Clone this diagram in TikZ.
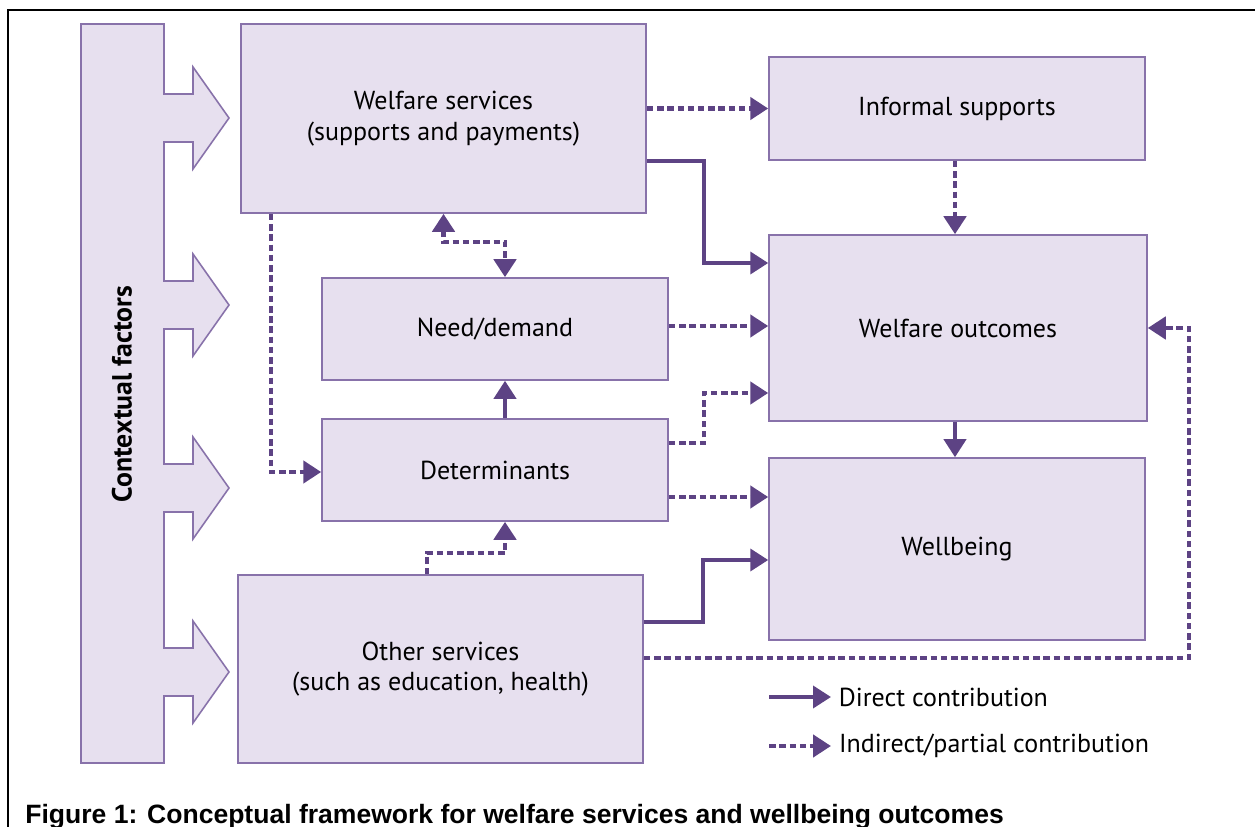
\documentclass[tikz,border=0pt]{standalone}
\usepackage{fontspec}
\setmainfont{PT Sans}
\newfontfamily\captionfont{Liberation Sans}
\usetikzlibrary{arrows.meta}
\definecolor{boxfill}{HTML}{E7E0EF}
\definecolor{boxline}{HTML}{8872AA}
\definecolor{flow}{HTML}{5D4384}
\newcommand{\boxtext}{\fontsize{14.8}{17.5}\selectfont}

\begin{document}
\begin{tikzpicture}[x=0.02cm, y=-0.02cm,
  >={Triangle[length=0.36cm, width=0.44cm]},
  box/.style={draw=boxline, fill=boxfill, line width=0.9pt, align=center, font=\boxtext},
  direct/.style={->, draw=flow, line width=2.2pt},
  indirect/.style={direct, line width=2.6pt, dash pattern=on 0.13cm off 0.075cm},
]
\useasboundingbox (0,0) rectangle (1255,827);
\draw[line width=1.7pt] (8,840) -- (8,10) -- (1270,10);

% contextual factors column and its four arrows
\draw[draw=boxline, fill=boxfill, line width=0.9pt] (81,24) -- (164,24)
  foreach \c in {118,305,488,672} {
    -- (164,\c-24) -- (193,\c-24) -- (193,\c-51) -- (229,\c)
    -- (193,\c+51) -- (193,\c+24) -- (164,\c+24)
  } -- (164,763) -- (81,763) -- cycle;
\node[rotate=90, font=\fontsize{15.8}{18}\selectfont\bfseries] (ctx) at (122,394) {Contextual factors};

% boxes
\node[box, minimum width=8.1cm, minimum height=3.78cm] (welfare) at (443.5,118.5) {Welfare services\\(supports and payments)};
\node[box, minimum width=7.52cm, minimum height=2.06cm] (informal) at (957,108.5) {Informal supports};
\node[box, minimum width=6.92cm, minimum height=2.04cm] (need) at (495,329) {Need/demand};
\node[box, minimum width=7.56cm, minimum height=3.72cm] (outcomes) at (958,328) {Welfare outcomes};
\node[box, minimum width=6.92cm, minimum height=2.04cm] (determinants) at (495,470) {Determinants};
\node[box, minimum width=7.52cm, minimum height=3.64cm] (wellbeing) at (957,549) {Wellbeing};
\node[box, minimum width=8.1cm, minimum height=3.76cm] (other) at (440.5,669) {Other services\\(such as education, health)};

% contributions
\draw[indirect] (welfare.east |- informal.west) -- (informal.west);
\draw[indirect] (informal.south -| 955,0) -- (outcomes.north -| 955,0);
\draw[direct] (welfare.east |- 0,161) -| (704,263) -- (outcomes.west |- 0,263);
\draw[indirect, <->] (welfare.south) |- (505,242) -- (need.north -| 505,0);
\draw[indirect] (welfare.south -| 271,0) |- (determinants.west |- 0,472);
\draw[indirect] (need.east |- 0,326) -- (outcomes.west |- 0,326);
\draw[direct] (determinants.north -| 505,0) -- (need.south -| 505,0);
\draw[indirect] (determinants.east |- 0,443) -| (704,393) -- (outcomes.west |- 0,393);
\draw[indirect] (determinants.east |- 0,497) -- (wellbeing.west |- 0,497);
\draw[direct] (outcomes.south -| 955,0) -- (wellbeing.north -| 955,0);
\draw[indirect] (other.north -| 427,0) |- (505,553) -- (determinants.south -| 505,0);
\draw[direct] (other.east |- 0,622) -| (703,560) -- (wellbeing.west |- 0,560);
\draw[indirect] (other.east |- 0,658) -| (1189,328) -- (outcomes.east);

% key
\coordinate (dkey) at (769,697);
\coordinate (ikey) at (769,746);
\draw[direct] (dkey) -- ++(62,0) node[right, font=\boxtext, text=black] {Direct contribution};
\draw[indirect] (ikey) -- ++(62,0) node[right, font=\boxtext, text=black] {Indirect/partial contribution};

\node[anchor=base west, inner sep=0pt, font=\captionfont\fontsize{15.1}{18}\selectfont\bfseries] (caption) at (25,823)
  {Figure 1: Conceptual framework for welfare services and wellbeing outcomes};
\end{tikzpicture}
\end{document}
